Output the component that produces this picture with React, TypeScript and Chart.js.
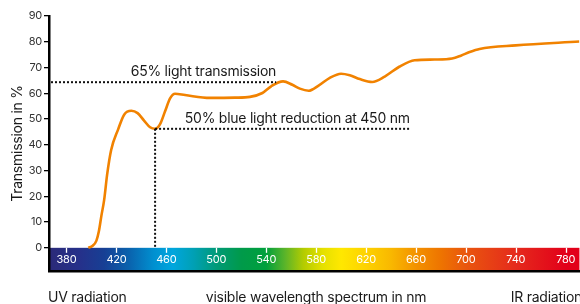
import React, { useEffect, useRef } from "react";
import { Chart, registerables } from "chart.js";

Chart.register(...registerables);

// ---- data ----
const wavelengths = [397.5, 401, 404, 406, 408, 410.2, 412.6, 415.8, 421.4, 426.2, 432, 437, 442, 447, 451, 455, 459, 463, 467, 475, 495, 515, 527, 537, 544, 553.5, 561, 567, 574, 582, 591, 600, 607, 615, 625, 635, 647, 659, 675, 689, 696, 703, 711, 740, 791];
const transmission = [0, 0.8, 2.8, 6.5, 12.5, 18.6, 28.5, 38, 46, 51.7, 53.2, 52.3, 49.5, 46.8, 46.2, 48, 53, 58, 59.8, 59.3, 58.2, 58.3, 58.6, 60.1, 62.7, 64.6, 63.3, 61.8, 61, 63, 66, 67.6, 67, 65.5, 64.4, 66.5, 70.4, 72.8, 73.1, 73.5, 74.6, 76, 77.2, 78.6, 80.1];

const xTickValues = [380, 420, 460, 500, 540, 580, 620, 660, 700, 740, 780];
const yTickValues = [0, 10, 20, 30, 40, 50, 60, 70, 80, 90];

const lightLine = { value: 64.3, endNm: 548, label: "65% light transmission" };
const blueLine = { value: 46.2, startNm: 451, endNm: 655, label: "50% blue light reduction at 450 nm" };

const bottomLabels = ["UV radiation", "visible wavelength spectrum in nm", "IR radiation"];
const yTitle = "Transmission in %";

// spectrum colour stops (wavelength, colour)
const spectrumNm = [366, 390, 410, 430, 450, 465, 482, 500, 520, 540, 555, 570, 585, 600, 620, 640, 660, 680, 700, 740, 780, 791];
const spectrumColors = ["#2b2a78", "#26308a", "#173f94", "#0a62ad", "#0090d0", "#00a6de", "#00a0b4", "#009a78", "#009a4a", "#00a03c", "#5ab42a", "#b4cc00", "#e4e000", "#ffe800", "#fdd200", "#f9b800", "#f39200", "#ee7400", "#e9560e", "#e52a1c", "#e2001a", "#e2001a"];

const FONT = "Inter, 'Liberation Sans', sans-serif";

const decorPlugin = {
  id: "decor",
  beforeDraw(chart: any) {
    const { ctx, chartArea, scales } = chart;
    const x = scales.x;
    const y = scales.y;
    ctx.letterSpacing = "-0.25px";
    const top = y.getPixelForValue(0);
    const bottom = y.getPixelForValue(y.min);
    const x0 = x.getPixelForValue(x.min);
    const x1 = x.getPixelForValue(x.max);
    const grad = ctx.createLinearGradient(x0, 0, x1, 0);
    spectrumNm.forEach((nm, i) => {
      grad.addColorStop((nm - x.min) / (x.max - x.min), spectrumColors[i]);
    });
    ctx.save();
    ctx.fillStyle = grad;
    ctx.fillRect(chartArea.left, top, chartArea.right - chartArea.left, bottom - top);
    ctx.restore();
  },
  beforeDatasetsDraw(chart: any) {
    const { ctx, scales } = chart;
    const x = scales.x;
    const y = scales.y;
    const top = y.getPixelForValue(0);
    ctx.save();
    ctx.strokeStyle = "#ffffff";
    ctx.lineWidth = 1.3;
    x.ticks.forEach((t: any) => {
      const px = Math.round(x.getPixelForValue(t.value)) + 0.5;
      ctx.beginPath();
      ctx.moveTo(px, top);
      ctx.lineTo(px, top + 5);
      ctx.stroke();
    });
    ctx.restore();
  },
  afterDatasetsDraw(chart: any) {
    const { ctx, chartArea, scales } = chart;
    const x = scales.x;
    const y = scales.y;
    ctx.save();
    ctx.strokeStyle = "#111";
    ctx.lineWidth = 2;
    ctx.setLineDash([2, 2]);
    const ly = y.getPixelForValue(lightLine.value);
    const lEnd = x.getPixelForValue(lightLine.endNm);
    ctx.beginPath();
    ctx.moveTo(chartArea.left + 2, ly);
    ctx.lineTo(lEnd, ly);
    ctx.stroke();
    const by = y.getPixelForValue(blueLine.value);
    const bx = x.getPixelForValue(blueLine.startNm);
    const bEnd = x.getPixelForValue(blueLine.endNm);
    ctx.beginPath();
    ctx.moveTo(bx, by);
    ctx.lineTo(bEnd, by);
    ctx.stroke();
    ctx.beginPath();
    ctx.moveTo(bx, by);
    ctx.lineTo(bx, y.getPixelForValue(0));
    ctx.stroke();
    ctx.setLineDash([]);
    ctx.fillStyle = "#1a1a1a";
    ctx.font = `14px ${FONT}`;
    ctx.textAlign = "right";
    ctx.textBaseline = "alphabetic";
    ctx.fillText(lightLine.label, lEnd, ly - 6);
    ctx.fillText(blueLine.label, bEnd, by - 6);
    ctx.restore();
  },
  afterDraw(chart: any) {
    const { ctx, chartArea, scales } = chart;
    const x = scales.x;
    ctx.save();
    ctx.fillStyle = "#1a1a1a";
    ctx.font = `14px ${FONT}`;
    ctx.textBaseline = "alphabetic";
    const base = 302;
    ctx.textAlign = "left";
    ctx.fillText(bottomLabels[0], chartArea.left - 1, base);
    ctx.textAlign = "center";
    ctx.fillText(bottomLabels[1], x.getPixelForValue(580), base);
    ctx.textAlign = "left";
    ctx.fillText(bottomLabels[2], x.getPixelForValue(736), base);
    ctx.restore();
  },
};

export default function App() {
  const ref = useRef<HTMLCanvasElement | null>(null);
  useEffect(() => {
    if (!ref.current) return;
    const chart = new Chart(ref.current, {
      type: "line",
      data: {
        datasets: [
          {
            data: wavelengths.map((w, i) => ({ x: w, y: transmission[i] })),
            borderColor: "#f18200",
            borderWidth: 2.6,
            pointRadius: 0,
            fill: false,
            cubicInterpolationMode: "monotone",
          },
        ],
      },
      options: {
        animation: false,
        responsive: true,
        maintainAspectRatio: false,
        layout: { padding: { top: 16, right: 0, left: 0, bottom: 0 } },
        plugins: { legend: { display: false }, tooltip: { enabled: false } },
        scales: {
          x: {
            type: "linear",
            min: 366,
            max: 791,
            afterBuildTicks: (s: any) => {
              s.ticks = xTickValues.map((v) => ({ value: v }));
            },
            afterFit: (s: any) => {
              s.height = 33;
            },
            grid: { display: false, drawTicks: false },
            border: { display: true, color: "#000", width: 2.5 },
            ticks: {
              color: "#ffffff",
              font: { family: FONT, size: 11 },
              mirror: true,
              padding: 4.4,
              autoSkip: false,
              maxRotation: 0,
              callback: (v: any) => String(v),
            },
          },
          y: {
            type: "linear",
            min: -9,
            max: 90,
            afterBuildTicks: (s: any) => {
              s.ticks = yTickValues.map((v) => ({ value: v }));
            },
            afterFit: (s: any) => {
              s.width = 49;
            },
            grid: { drawOnChartArea: false, drawTicks: true, tickLength: 5, color: "#000", lineWidth: 1.3 },
            border: { display: true, color: "#000", width: 2.5 },
            ticks: { color: "#333", font: { family: FONT, size: 11 }, padding: 2 },
            title: {
              display: true,
              text: yTitle,
              color: "#1a1a1a",
              font: { family: FONT, size: 14 },
              padding: { top: 9, bottom: 0 },
            },
          },
        },
      },
      plugins: [decorPlugin],
    } as any);
    return () => chart.destroy();
  }, []);
  return (
    <div style={{ position: "fixed", left: 0, top: 0, width: 580, height: 304 }}>
      <canvas ref={ref} />
    </div>
  );
}
